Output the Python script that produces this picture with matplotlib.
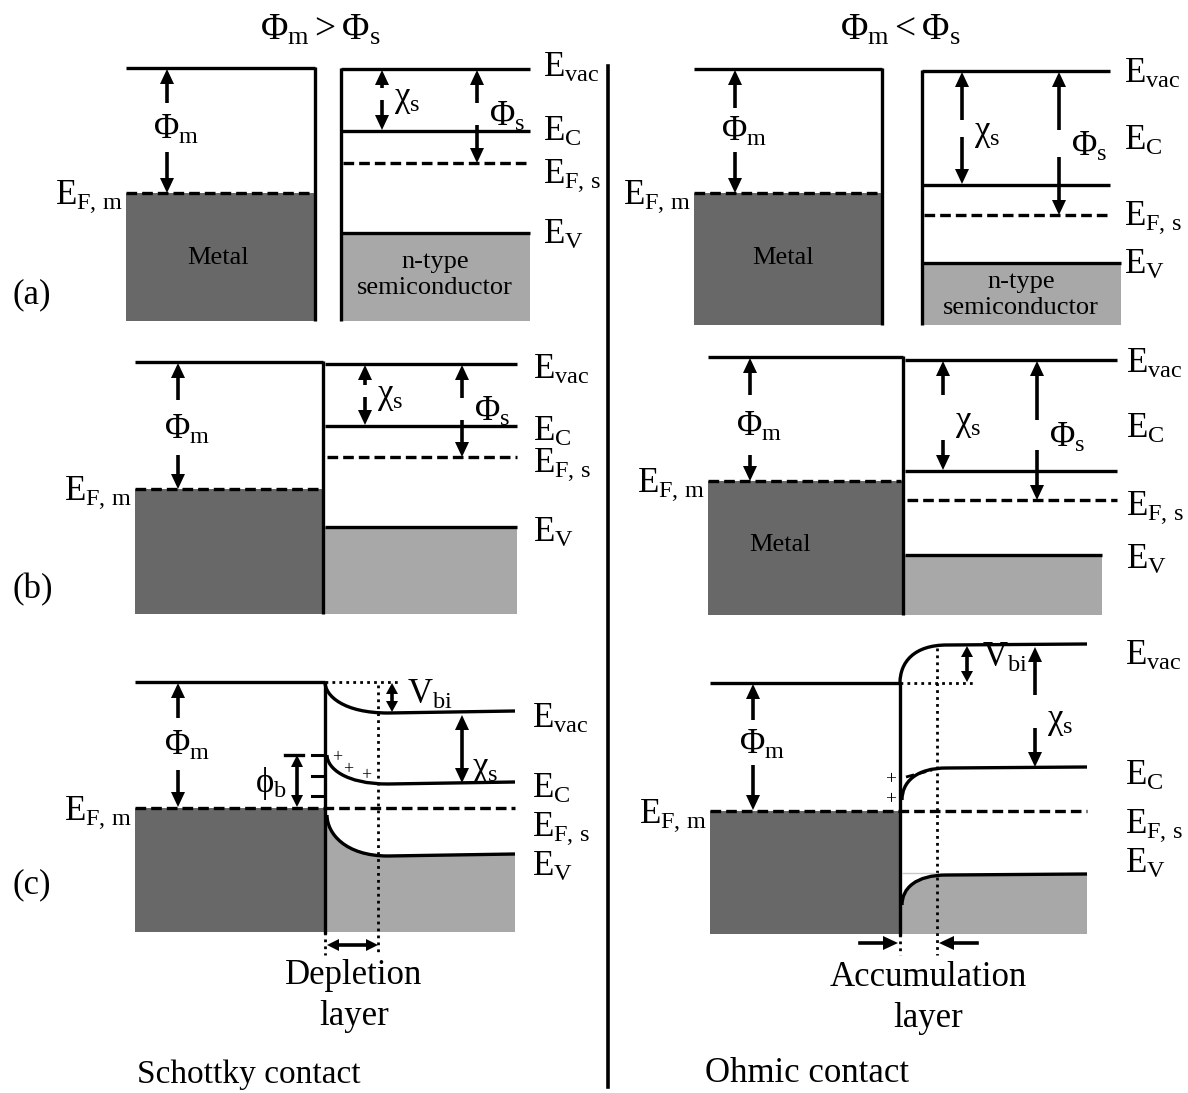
import numpy as np
import matplotlib.pyplot as plt
from matplotlib.path import Path
from matplotlib.patches import PathPatch, Polygon

plt.rcParams['font.family'] = ['Liberation Serif', 'DejaVu Serif']
plt.rcParams['mathtext.fontset'] = 'custom'
plt.rcParams['mathtext.rm'] = 'Liberation Serif'
plt.rcParams['mathtext.it'] = 'Liberation Serif'
plt.rcParams['mathtext.bf'] = 'Liberation Serif:bold'

# band levels for the flat-band panels, (a) and (b), Schottky / ohmic side
# values are heights on the drawing, growing downwards (lower energy)
flat_panels = ['a_schottky', 'a_ohmic', 'b_schottky', 'b_ohmic']
metal_vac = [68, 69, 362, 357]
metal_fermi = [193, 193, 489, 481]
semi_vac = [69, 71, 364, 360]
semi_cb = [131, 185, 426, 471]
semi_fermi = [163, 215, 457, 500]
semi_vb = [233, 263, 527, 555]

# panel (c): bands at the interface and in the bulk after contact
bent_panels = ['c_schottky', 'c_ohmic']
c_metal_vac = [682, 683]
c_fermi = [808, 811]
c_vac_surface = [682, 683]
c_vac_bulk = [713, 645]
c_cb_surface = [755, 800]
c_cb_bulk = [784, 768]
c_vb_surface = [815, 905]
c_vb_bulk = [856, 875]
layer_width = [53, 37]   # depletion / accumulation width

DARK = '#686868'
LIGHT = '#a8a8a8'
LW = 2.4
FS = 25

fig = plt.figure(figsize=(11.88, 10.93), dpi=100)
ax = fig.add_axes([0, 0, 1, 1])
ax.set_xlim(0, 1188)
ax.set_ylim(1093, 0)
ax.axis('off')


def hline(x0, x1, y, dashed=False, **kw):
    if dashed:
        ax.plot([x0, x1], [y, y], color='k', lw=LW, dashes=(3.2, 1.5), solid_capstyle='butt', **kw)
    else:
        ax.plot([x0, x1], [y, y], color='k', lw=LW, solid_capstyle='butt', **kw)


def vline(x, y0, y1, **kw):
    ax.plot([x, x], [y0, y1], color='k', lw=LW, solid_capstyle='butt', **kw)


def head(x, y, d, w=7, l=15):
    # d = 'u', 'd', 'l', 'r' : direction the tip points to
    if d == 'u':
        pts = [(x, y), (x - w, y + l), (x + w, y + l)]
    elif d == 'd':
        pts = [(x, y), (x - w, y - l), (x + w, y - l)]
    elif d == 'r':
        pts = [(x, y), (x - l, y - w), (x - l, y + w)]
    else:
        pts = [(x, y), (x + l, y - w), (x + l, y + w)]
    ax.add_patch(Polygon(pts, closed=True, facecolor='k', edgecolor='none', zorder=5))


def varrow(x, ytop, ybot, gap=None, lw=2.6, w=7, l=15):
    # double headed vertical arrow, optional break where a label sits
    head(x, ytop, 'u', w, l)
    head(x, ybot, 'd', w, l)
    y0, y1 = ytop + l - 4, ybot - l + 4
    if gap is None:
        ax.plot([x, x], [y0, y1], color='k', lw=lw, solid_capstyle='butt')
    else:
        ax.plot([x, x], [y0, gap[0]], color='k', lw=lw, solid_capstyle='butt')
        ax.plot([x, x], [gap[1], y1], color='k', lw=lw, solid_capstyle='butt')


def band_label(x, y, txt):
    ax.text(x, y, txt, fontsize=FS, ha='left', va='baseline')


def fill_rect(x0, x1, y0, y1, color):
    ax.fill_between([x0, x1], [y0, y0], [y1, y1], color=color, lw=0, zorder=0)


# ---------------- panels (a) and (b) ----------------
layout = {
    'a_schottky': dict(m0=126, m1=315, s0=341, s1=530, sv1=530, bot=321, ix=None, lx=543,
                       pm=167, chi=382, phis=477, mlabel=(218, 258)),
    'a_ohmic': dict(m0=694, m1=882, s0=922, s1=1110, sv1=1121, bot=325, ix=None, lx=1124,
                    pm=735, chi=962, phis=1059, mlabel=(783, 258)),
    'b_schottky': dict(m0=135, m1=323, s0=325, s1=517, sv1=517, bot=614, ix=323, lx=533,
                       pm=178, chi=365, phis=462, mlabel=None),
    'b_ohmic': dict(m0=708, m1=903, s0=905, s1=1117, sv1=1102, bot=615, ix=903, lx=1126,
                    pm=750, chi=943, phis=1037, mlabel=(780, 545)),
}
# where the band labels sit next to the semiconductor levels
label_y = {
    'a_schottky': [77, 141, 183, 244],
    'a_ohmic': [83, 150, 225, 274],
    'b_schottky': [379, 441, 472, 542],
    'b_ohmic': [373, 438, 515, 569],
}
# gaps in the arrows for the Phi_m / chi_s / Phi_s labels
gaps = {
    'a_schottky': [(103, 152), (88, 100), (103, 125)],
    'a_ohmic': [(108, 152), (120, 137), (130, 157)],
    'b_schottky': [(400, 455), (385, 397), (398, 420)],
    'b_ohmic': [(395, 455), (395, 440), (420, 450)],
}

for i, name in enumerate(flat_panels):
    L = layout[name]
    g = gaps[name]
    # metal block
    fill_rect(L['m0'], L['m1'], metal_fermi[i], L['bot'], DARK)
    hline(L['m0'], L['m1'], metal_vac[i])
    hline(L['m0'], L['m1'] - 2, metal_fermi[i], dashed=True)
    # semiconductor block
    fill_rect(L['s0'], L['sv1'], semi_vb[i], L['bot'], LIGHT)
    hline(L['s0'], L['s1'], semi_vac[i])
    hline(L['s0'], L['s1'], semi_cb[i])
    hline(L['s0'] + 2, L['s1'], semi_fermi[i], dashed=True)
    hline(L['s0'], L['sv1'], semi_vb[i])
    if L['ix'] is None:
        vline(L['m1'], metal_vac[i] - 1, L['bot'])
        vline(L['s0'], semi_vac[i] - 1, L['bot'])
    else:
        vline(L['ix'], metal_vac[i] - 1, L['bot'])
    # energy differences
    varrow(L['pm'], metal_vac[i] + 1, metal_fermi[i], gap=g[0])
    ax.text(L['pm'] - 14, (g[0][0] + g[0][1]) / 2 + 11, r'$\Phi_m$', fontsize=FS, ha='left', va='baseline')
    varrow(L['chi'], semi_vac[i] + 1, semi_cb[i] - 1, gap=g[1])
    ax.text(L['chi'] + 12, (g[1][0] + g[1][1]) / 2 + 12, r'$\chi_s$', fontsize=FS, ha='left', va='baseline')
    varrow(L['phis'], semi_vac[i] + 1, semi_fermi[i], gap=g[2])
    ax.text(L['phis'] + 12, (g[2][0] + g[2][1]) / 2 + 12, r'$\Phi_s$', fontsize=FS, ha='left', va='baseline')
    # level names
    ly = label_y[name]
    band_label(L['lx'], ly[0], r'$E_{vac}$')
    band_label(L['lx'], ly[1], r'$E_C$')
    band_label(L['lx'], ly[2], r'$E_{F,\,s}$')
    band_label(L['lx'], ly[3], r'$E_V$')
    ax.text(L['m0'] - 3, metal_fermi[i] + 11, r'$E_{F,\,m}$', fontsize=FS, ha='right', va='baseline')
    if L['mlabel'] is not None:
        ax.text(*L['mlabel'], 'Metal', fontsize=19, ha='center', va='center')

ax.text(435, 275, 'n-type\nsemiconductor', fontsize=19, ha='center', va='center', linespacing=1.2)
ax.text(1021, 295, 'n-type\nsemiconductor', fontsize=19, ha='center', va='center', linespacing=1.2)


# ---------------- panel (c): after contact ----------------
def bent(x0, y_s, y_b, x_flat, x_end, upward):
    # band that bends from its interface value y_s to its bulk value y_b
    k = 0.55 if upward else 0.45
    verts = [(x0, y_s), (x0, y_s + (y_b - y_s) * k), (x0 + (x_flat - x0) * 0.3, y_b),
             (x_flat, y_b), (x_end, y_b - (1 if upward else 2))]
    codes = [Path.MOVETO, Path.CURVE4, Path.CURVE4, Path.CURVE4, Path.LINETO]
    return verts, codes


cl = {
    'c_schottky': dict(m0=135, ix=325, s1=515, bot=932, lx=532, pm=178, gap=(718, 770),
                       vbi=392, chi=462),
    'c_ohmic': dict(m0=710, ix=900, s1=1087, bot=934, lx=1125, pm=753, gap=(720, 765),
                    vbi=967, chi=1035),
}
c_label_y = {
    'c_schottky': [728, 798, 836, 876],
    'c_ohmic': [665, 785, 833, 873],
}

for i, name in enumerate(bent_panels):
    L = cl[name]
    x0 = L['ix']
    xd = x0 + layer_width[i]
    up = name == 'c_ohmic'
    # metal
    fill_rect(L['m0'], x0 - 1, c_fermi[i], L['bot'], DARK)
    hline(L['m0'], x0, c_metal_vac[i])
    # semiconductor valence band filled below
    v, c = bent(x0 + 2, c_vb_surface[i], c_vb_bulk[i], xd + 10, L['s1'], up)
    fv = v + [(L['s1'], L['bot']), (x0 + 2, L['bot']), (x0 + 2, c_vb_surface[i])]
    fc = c + [Path.LINETO, Path.LINETO, Path.CLOSEPOLY]
    ax.add_patch(PathPatch(Path(fv, fc), facecolor=LIGHT, edgecolor='none', zorder=0))
    for ys, yb, start in [(c_vac_surface[i], c_vac_bulk[i], x0),
                          (c_cb_surface[i], c_cb_bulk[i], x0 + 2),
                          (c_vb_surface[i], c_vb_bulk[i], x0 + 2)]:
        v, c = bent(start, ys, yb, xd + 10, L['s1'], up)
        ax.add_patch(PathPatch(Path(v, c), facecolor='none', edgecolor='k', lw=LW, zorder=3))
    vline(x0, c_metal_vac[i] - 1, L['bot'] + 2, zorder=4)
    hline(L['m0'], L['s1'], c_fermi[i], dashed=True)
    # dotted guides: flat vacuum level and edge of the space charge layer
    ax.plot([x0, L['vbi'] + 8], [c_metal_vac[i]] * 2, color='k', lw=2, ls=(0, (1, 1.5)))
    ax.plot([xd, xd], [min(c_vac_bulk[i], c_metal_vac[i]) + 3, 955], color='k', lw=2, ls=(0, (1, 1.5)))
    ax.plot([x0, x0], [L['bot'], 955], color='k', lw=2, ls=(0, (1, 1.5)))
    # energy differences
    varrow(L['pm'], c_metal_vac[i] + 1, c_fermi[i] - 1, gap=L['gap'])
    ax.text(L['pm'] - 14, (L['gap'][0] + L['gap'][1]) / 2 + 11, r'$\Phi_m$', fontsize=FS, ha='left', va='baseline')
    ytop, ybot = sorted([c_metal_vac[i], c_vac_bulk[i]])
    varrow(L['vbi'], ytop + 1, ybot - 1, w=6, l=11)
    ax.text(L['vbi'] + 15, ytop + 22, r'$V_{bi}$', fontsize=FS, ha='left', va='baseline')
    # level names
    ly = c_label_y[name]
    band_label(L['lx'], ly[0], r'$E_{vac}$')
    band_label(L['lx'], ly[1], r'$E_C$')
    band_label(L['lx'], ly[2], r'$E_{F,\,s}$')
    band_label(L['lx'], ly[3], r'$E_V$')
    ax.text(L['m0'] - 3, c_fermi[i] + 12, r'$E_{F,\,m}$', fontsize=FS, ha='right', va='baseline')

# Schottky side: electron affinity, barrier height and surface states
varrow(462, c_vac_bulk[0] + 2, c_cb_bulk[0] - 1)
ax.text(472, 776, r'$\chi_s$', fontsize=FS, ha='left', va='baseline')
varrow(297, c_cb_surface[0], c_fermi[0] - 1, w=6, l=12)
ax.plot([285, 303], [c_cb_surface[0]] * 2, color='k', lw=2.4)
ax.text(255, 792, r'$\phi_b$', fontsize=FS, ha='left', va='baseline')
for ys in [755, 776, 796]:
    ax.plot([312, 323], [ys, ys], color='k', lw=2.2)
for px, py in [(337, 758), (348, 770), (366, 776)]:
    ax.text(px, py, '+', fontsize=13, ha='center', va='center')

# ohmic side
varrow(1035, c_vac_bulk[1] + 2, c_cb_bulk[1] - 1, gap=(695, 728))
ax.text(1047, 728, r'$\chi_s$', fontsize=FS, ha='left', va='baseline')
ax.plot([906, 932], [777, 770], color='k', lw=2, dashes=(3, 1.5))
for py in [780, 800]:
    ax.text(891, py, '+', fontsize=14, ha='center', va='center')
ax.plot([903, 937], [873, 873], color='#c8c8c8', lw=1)

# layer widths
y_arr = 945
ax.plot([333, 372], [y_arr, y_arr], color='k', lw=2.6)
head(327, y_arr, 'l', w=6, l=12)
head(378, y_arr, 'r', w=6, l=12)
ax.plot([860, 887], [943, 943], color='k', lw=2.6)
head(898, 943, 'r', w=7, l=15)
ax.plot([952, 977], [943, 943], color='k', lw=2.6)
head(939, 943, 'l', w=7, l=15)

ax.text(354, 996, 'Depletion\nlayer', fontsize=25, ha='center', va='center', linespacing=1.3)
ax.text(928, 998, 'Accumulation\nlayer', fontsize=25, ha='center', va='center', linespacing=1.3)
ax.text(137, 1075, 'Schottky contact', fontsize=24, ha='left', va='center')
ax.text(705, 1073, 'Ohmic contact', fontsize=25, ha='left', va='center')

# titles, panel tags and divider
ax.text(320, 30, r'$\Phi_m > \Phi_s$', fontsize=27, ha='center', va='center')
ax.text(900, 30, r'$\Phi_m < \Phi_s$', fontsize=27, ha='center', va='center')
for tag, y in [('(a)', 295), ('(b)', 590), ('(c)', 885)]:
    ax.text(12, y, tag, fontsize=25, ha='left', va='center')
ax.plot([608, 608], [66, 1087], color='k', lw=2.6)

fig.savefig('out.png', dpi=100)
